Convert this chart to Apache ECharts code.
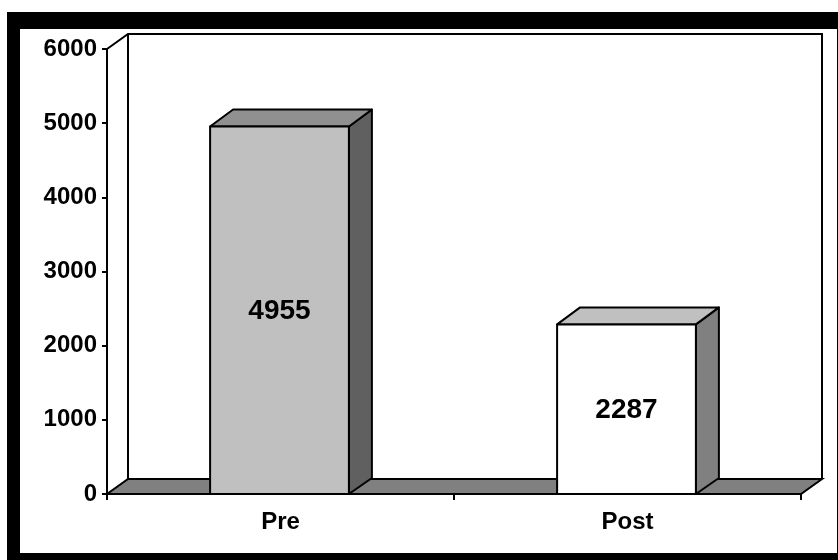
<!DOCTYPE html>
<html>
<head>
<meta charset="utf-8">
<script src="https://cdn.jsdelivr.net/npm/echarts@6/dist/echarts.min.js"></script>
<style>
html,body{margin:0;padding:0;background:#fff;}
#outer{position:absolute;left:7px;top:12px;width:831px;height:548px;background:#000;}
#inner{position:absolute;left:20px;top:29px;width:817px;height:524px;background:#fff;}
#chart{position:absolute;left:0;top:0;width:838px;height:560px;}
</style>
</head>
<body>
<div id="outer"></div>
<div id="inner"></div>
<div id="chart"></div>
<script>
var categories = ['Pre', 'Post'];
var values = [4955, 2287];
var yTicks = [0, 1000, 2000, 3000, 4000, 5000, 6000];

var frontColors = ['#c0c0c0', '#ffffff'];
var topColors = ['#909090', '#c0c0c0'];
var sideColors = ['#606060', '#808080'];

var FONT = '"Liberation Sans", Arial, sans-serif';
var WDX = 21, WDY = -15;   // wall depth
var BDX = 23, BDY = -17;   // bar depth

var chart = echarts.init(document.getElementById('chart'), null, {renderer: 'canvas'});

function frameItem(params, api) {
  var cs = params.coordSys;
  var x0 = cs.x, x1 = cs.x + cs.width, y0 = cs.y, y1 = cs.y + cs.height;
  var ls = {stroke: '#000', lineWidth: 2, fill: null};
  return {
    type: 'group',
    children: [
      {type: 'polygon', shape: {points: [[x0, y1], [x1, y1], [x1 + WDX, y1 + WDY], [x0 + WDX, y1 + WDY]]},
       style: {fill: '#808080', stroke: '#000', lineWidth: 2}},
      {type: 'polyline', shape: {points: [[x0, y0], [x0 + WDX, y0 + WDY], [x1 + WDX, y0 + WDY], [x1 + WDX, y1 + WDY]]}, style: ls},
      {type: 'line', shape: {x1: x0 + WDX, y1: y0 + WDY, x2: x0 + WDX, y2: y1 + WDY}, style: ls}
    ]
  };
}

function barItem(params, api) {
  var idx = api.value(0);
  var v = api.value(1);
  var top = api.coord([idx, v]);
  var base = api.coord([idx, 0]);
  var band = api.size([1, 0])[0];
  var w = band * 0.4;
  var xl = top[0] - w / 2 - 1, xr = top[0] + w / 2 - 1;
  var yt = top[1], yb = base[1];
  var st = {stroke: '#000', lineWidth: 2, lineJoin: 'round'};
  return {
    type: 'group',
    children: [
      {type: 'polygon', shape: {points: [[xr, yb], [xr + BDX, yb + BDY + 1], [xr + BDX, yt + BDY], [xr, yt]]},
       style: Object.assign({fill: sideColors[idx]}, st)},
      {type: 'polygon', shape: {points: [[xl, yt], [xr, yt], [xr + BDX, yt + BDY], [xl + BDX, yt + BDY]]},
       style: Object.assign({fill: topColors[idx]}, st)},
      {type: 'rect', shape: {x: xl, y: yt, width: xr - xl, height: yb - yt},
       style: Object.assign({fill: frontColors[idx]}, st)},
      {type: 'text', x: (xl + xr) / 2, y: (yt + yb) / 2 + 1,
       style: {text: String(v), fill: '#000', font: 'bold 28px ' + FONT, align: 'center', verticalAlign: 'middle'}}
    ]
  };
}

chart.setOption({
  backgroundColor: 'transparent',
  animation: false,
  grid: {left: 107, right: 37, top: 49, bottom: 66},
  xAxis: {
    type: 'category',
    data: categories,
    boundaryGap: true,
    axisLine: {show: false},
    axisTick: {show: true, length: 6, lineStyle: {color: '#000', width: 2}},
    axisLabel: {color: '#000', fontFamily: FONT, fontWeight: 'bold', fontSize: 24, margin: 16},
    splitLine: {show: false}
  },
  yAxis: {
    type: 'value',
    min: yTicks[0],
    max: yTicks[yTicks.length - 1],
    interval: 1000,
    axisLine: {show: true, lineStyle: {color: '#000', width: 2}},
    axisTick: {show: true, length: 5, lineStyle: {color: '#000', width: 2}},
    axisLabel: {color: '#000', fontFamily: FONT, fontWeight: 'bold', fontSize: 24, margin: 10,
                formatter: function (v) { return String(v); }},
    splitLine: {show: false}
  },
  series: [
    {type: 'custom', renderItem: frameItem, data: [[0]], z: 1, silent: true},
    {type: 'custom', renderItem: barItem, data: values.map(function (v, i) { return [i, v]; }), z: 3, silent: true}
  ]
});
</script>
</body>
</html>
